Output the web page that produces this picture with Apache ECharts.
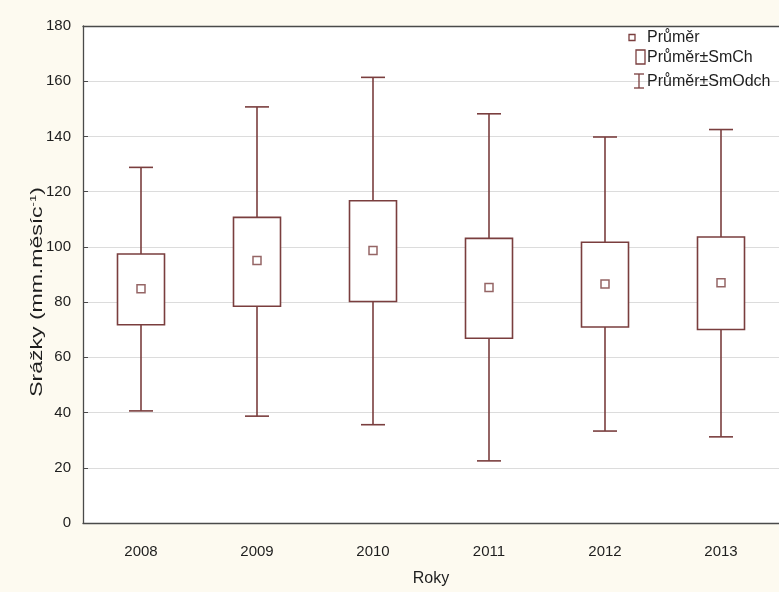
<!DOCTYPE html>
<html>
<head>
<meta charset="utf-8">
<script src="https://cdn.jsdelivr.net/npm/echarts@6/dist/echarts.min.js"></script>
<style>
  html, body { margin: 0; padding: 0; background: #fdfaf0; }
  #chart { width: 779px; height: 592px; }
</style>
</head>
<body>
<div id="chart"></div>
<script>
// Monthly precipitation by year: mean, mean ± standard error, mean ± standard deviation
const years = ['2008', '2009', '2010', '2011', '2012', '2013'];
const meanVals = [84.8, 95.1, 98.7, 85.3, 86.6, 87.0];
const seLow = [71.8, 78.5, 80.2, 66.9, 71.0, 70.1];
const seHigh = [97.4, 110.7, 116.7, 103.1, 101.7, 103.6];
const sdLow = [40.6, 38.7, 35.6, 22.5, 33.3, 31.2];
const sdHigh = [128.8, 150.7, 161.4, 148.2, 139.8, 142.5];
const yTicks = [0, 20, 40, 60, 80, 100, 120, 140, 160, 180];

const markColor = '#7a3e3e';
const axisColor = '#4a4a4a';
const textColor = '#1e1e1e';
const fontFamily = '"Liberation Sans", Arial, sans-serif';

const whiskerData = years.map((y, i) => [i, sdLow[i], sdHigh[i]]);
const boxData = years.map((y, i) => [i, seLow[i], seHigh[i]]);
const meanData = years.map((y, i) => [i, meanVals[i]]);

function renderWhisker(params, api) {
  const lo = api.coord([api.value(0), api.value(1)]);
  const hi = api.coord([api.value(0), api.value(2)]);
  const half = 12;
  const style = { stroke: markColor, lineWidth: 1.6, fill: null };
  return {
    type: 'group',
    children: [
      { type: 'line', shape: { x1: lo[0], y1: lo[1], x2: hi[0], y2: hi[1] }, style },
      { type: 'line', shape: { x1: hi[0] - half, y1: hi[1], x2: hi[0] + half, y2: hi[1] }, style },
      { type: 'line', shape: { x1: lo[0] - half, y1: lo[1], x2: lo[0] + half, y2: lo[1] }, style }
    ]
  };
}

function renderBox(params, api) {
  const lo = api.coord([api.value(0), api.value(1)]);
  const hi = api.coord([api.value(0), api.value(2)]);
  const w = 47;
  return {
    type: 'rect',
    shape: { x: lo[0] - w / 2, y: hi[1], width: w, height: lo[1] - hi[1] },
    style: { fill: '#ffffff', stroke: markColor, lineWidth: 1.6 }
  };
}

const chart = echarts.init(document.getElementById('chart'), null, { renderer: 'canvas' });

chart.setOption({
  backgroundColor: '#fdfaf0',
  animation: false,
  grid: {
    left: 83, top: 26, width: 702, height: 506,
    show: true, backgroundColor: '#ffffff', borderWidth: 0
  },
  xAxis: [
    {
      type: 'category',
      data: years,
      position: 'bottom',
      boundaryGap: true,
      name: 'Roky',
      nameLocation: 'middle',
      nameGap: 48,
      nameTextStyle: { fontFamily, fontSize: 16, color: textColor },
      axisLine: { lineStyle: { color: axisColor, width: 1.3 } },
      axisTick: { inside: true, alignWithLabel: true, length: 4, lineStyle: { color: axisColor } },
      axisLabel: { fontFamily, fontSize: 15, color: textColor, margin: 21 },
      splitLine: { show: false }
    },
    {
      type: 'category',
      data: years,
      position: 'top',
      boundaryGap: true,
      axisLine: { lineStyle: { color: axisColor, width: 1.3 } },
      axisTick: { inside: true, alignWithLabel: true, length: 4, lineStyle: { color: axisColor } },
      axisLabel: { show: false },
      splitLine: { show: false }
    }
  ],
  yAxis: {
    type: 'value',
    min: yTicks[0],
    max: yTicks[yTicks.length - 1],
    interval: yTicks[1] - yTicks[0],
    axisLine: { show: true, lineStyle: { color: axisColor, width: 1.3 } },
    axisTick: { show: true, inside: true, length: 5, lineStyle: { color: axisColor } },
    axisLabel: { fontFamily, fontSize: 15, color: textColor, margin: 12 },
    splitLine: { show: true, lineStyle: { color: '#dcdcdc', width: 1 } }
  },
  series: [
    {
      name: 'Průměr±SmOdch',
      type: 'custom',
      renderItem: renderWhisker,
      data: whiskerData,
      encode: { x: 0, y: [1, 2] },
      z: 2
    },
    {
      name: 'Průměr±SmCh',
      type: 'custom',
      renderItem: renderBox,
      data: boxData,
      encode: { x: 0, y: [1, 2] },
      z: 3
    },
    {
      name: 'Průměr',
      type: 'scatter',
      data: meanData,
      symbol: 'rect',
      symbolSize: 8,
      itemStyle: { color: '#ffffff', borderColor: markColor, borderWidth: 1.5 },
      z: 4
    }
  ],
  graphic: [
    // y-axis title with superscript exponent
    {
      type: 'text',
      x: 37, y: 292,
      rotation: Math.PI / 2,
      scaleY: 0.72,
      style: {
        text: '{t|Srážky (mm.měsíc}{s|-1}{t|)}',
        align: 'center',
        verticalAlign: 'middle',
        rich: {
          t: { fontFamily, fontSize: 23, fill: textColor, color: textColor },
          s: { fontFamily, fontSize: 13, fill: textColor, color: textColor, verticalAlign: 'top', padding: [0, 0, 9, 0] }
        }
      },
      z: 10
    },
    // legend
    { type: 'rect', shape: { x: 629, y: 34.5, width: 6, height: 6 },
      style: { fill: '#ffffff', stroke: markColor, lineWidth: 1.3 }, z: 10 },
    { type: 'text', x: 647, y: 38, style: { text: 'Průměr', font: '16px ' + fontFamily, fill: textColor, verticalAlign: 'middle' }, z: 10 },
    { type: 'rect', shape: { x: 636, y: 50, width: 9, height: 14 },
      style: { fill: '#ffffff', stroke: markColor, lineWidth: 1.3 }, z: 10 },
    { type: 'text', x: 647, y: 58, style: { text: 'Průměr±SmCh', font: '16px ' + fontFamily, fill: textColor, verticalAlign: 'middle' }, z: 10 },
    { type: 'line', shape: { x1: 639, y1: 74, x2: 639, y2: 88 }, style: { stroke: markColor, lineWidth: 1.3 }, z: 10 },
    { type: 'line', shape: { x1: 634, y1: 74, x2: 644, y2: 74 }, style: { stroke: markColor, lineWidth: 1.3 }, z: 10 },
    { type: 'line', shape: { x1: 634, y1: 88, x2: 644, y2: 88 }, style: { stroke: markColor, lineWidth: 1.3 }, z: 10 },
    { type: 'text', x: 647, y: 82, style: { text: 'Průměr±SmOdch', font: '16px ' + fontFamily, fill: textColor, verticalAlign: 'middle' }, z: 10 }
  ]
});
</script>
</body>
</html>
